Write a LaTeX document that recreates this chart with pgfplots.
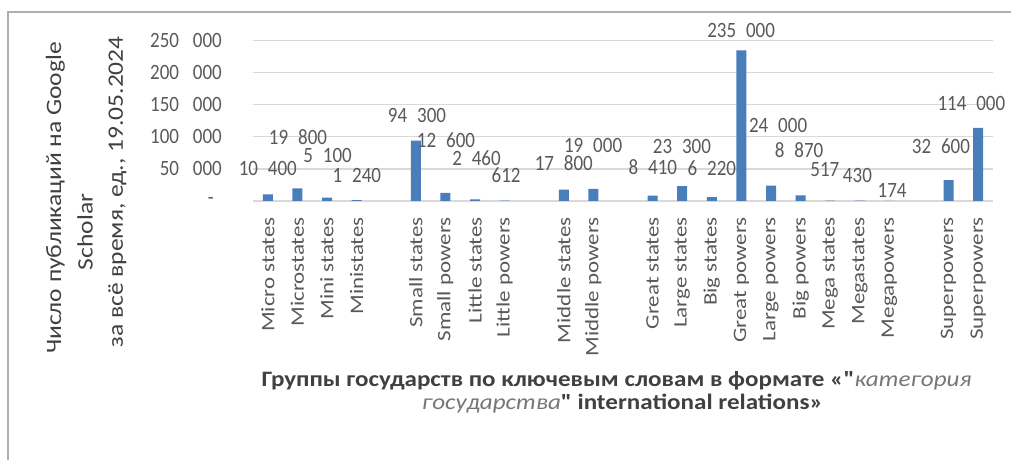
\documentclass[border=0pt]{standalone}
\usepackage{pgfplots}
\pgfplotsset{compat=1.18}
\usepackage{pgfplotstable}
\usepackage{graphicx}
\usepackage{fontspec}
\setmainfont{Carlito}[Ligatures=TeXOff]
\definecolor{barblue}{RGB}{74,126,187}
\definecolor{tickgray}{RGB}{89,89,89}
\definecolor{titlegray}{RGB}{64,64,64}
\definecolor{italgray}{RGB}{118,118,118}
\definecolor{gridgray}{RGB}{217,217,217}
\definecolor{framegray}{RGB}{175,175,175}
\newcommand\sx[1]{\scalebox{1}[1.15]{#1}}
\newcommand\sr[1]{\scalebox{1.21}[1]{#1}}
\newcommand\fs{\fontsize{19}{22}\selectfont}
\newcommand\ft{\fontsize{22}{26}\selectfont}

\pgfplotstableread{
x lx ly v
0 0.0 51000 10400
1 1.02 100280 19800
2 2.02 71740 5100
3 3.01 40550 1240
5 5.04 134120 94300
6 6.02 95130 12600
7 7.05 67060 2460
8 8.05 40550 612
10 10.0 59260 17800
11 10.99 87340 19000
13 13.01 53490 8410
14 13.99 84690 23300
15 15.0 51470 6220
16 15.99 266690 235000
17 17.24 117440 24000
18 17.95 79540 8870
19 18.82 48350 517
20 19.92 39460 430
21 21.09 17160 174
23 22.74 84690 32600
24 23.77 152840 114000
}\datatable

\begin{document}
\begin{tikzpicture}
\useasboundingbox (0pt,0pt) rectangle (1011pt,460pt);
\draw[framegray, line width=1.5pt] (8pt,0pt) -- (8pt,448pt) -- (1011pt,448pt);
\begin{axis}[
 at={(253pt,259pt)}, anchor=south west,
 scale only axis, width=740pt, height=160.3pt,
 xmin=-0.5, xmax=24.5, ymin=0, ymax=250000,
 clip=false,
 scaled y ticks=false,
 axis line style={draw=none},
 major tick length=0pt,
 ymajorgrids, grid style={gridgray, line width=1.2pt},
 ytick={0,50000,100000,150000,200000,250000},
 yticklabels={{\sx{-}\kern8pt},{\sx{50\kern0.73em000}},{\sx{100\kern0.73em000}},{\sx{150\kern0.73em000}},{\sx{200\kern0.73em000}},{\sx{250\kern0.73em000}}},
 xtick={0,1,2,3,5,6,7,8,10,11,13,14,15,16,17,18,19,20,21,23,24},
 xticklabels={{\sr{Micro states}},{\sr{Microstates}},{\sr{Mini states}},{\sr{Ministates}},{\sr{Small states}},{\sr{Small powers}},{\sr{Little states}},{\sr{Little powers}},{\sr{Middle states}},{\sr{Middle powers}},{\sr{Great states}},{\sr{Large states}},{\sr{Big states}},{\sr{Great powers}},{\sr{Large powers}},{\sr{Big powers}},{\sr{Mega states}},{\sr{Megastates}},{\sr{Megapowers}},{\sr{Superpowers}},{\sr{Superpowers}}},
 tick label style={font=\fs, text=tickgray, inner sep=0pt},
 xticklabel style={rotate=90, anchor=east},
 xticklabel shift=16pt,
 yticklabel style={anchor=east},
 yticklabel shift=31pt,
]
\addplot[ybar, bar width=10pt, bar shift=0pt, fill=barblue, draw=none] table[x=x,y=v]{\datatable};
\addplot[draw=none, mark=none, point meta=explicit,
 nodes near coords={\sx{\pgfmathprintnumber[fixed,precision=0,1000 sep={\kern0.52em},assume math mode=true]{\pgfplotspointmeta}}},
 nodes near coords align={center},
 every node near coord/.append style={font=\fs, text=tickgray, inner sep=0pt}]
 table[x=lx,y=ly,meta=v]{\datatable};
\end{axis}
\node[rotate=90, font=\ft, text=titlegray, inner sep=0pt] at (55.5pt,262pt) {\scalebox{1.16}[1]{Число публикаций на Google}};
\node[rotate=90, font=\ft, text=titlegray, inner sep=0pt] at (85pt,228pt) {\scalebox{1.16}[1]{Scholar}};
\node[rotate=90, font=\ft, text=titlegray, inner sep=0pt] at (117.5pt,268pt) {\scalebox{1.16}[1]{за всё время, ед., 19.05.2024}};
\node[anchor=base, font=\ft, text=titlegray, inner sep=0pt] at (616.5pt,73.3pt) {\scalebox{1.14}[1]{\bfseries Группы государств по ключевым словам в формате «"\textcolor{italgray}{\mdseries\itshape категория}}};
\node[anchor=base, font=\ft, text=titlegray, inner sep=0pt] at (622.5pt,50pt) {\scalebox{1.14}[1]{\textcolor{italgray}{\itshape государства}\bfseries" international relations»}};
\end{tikzpicture}
\end{document}
